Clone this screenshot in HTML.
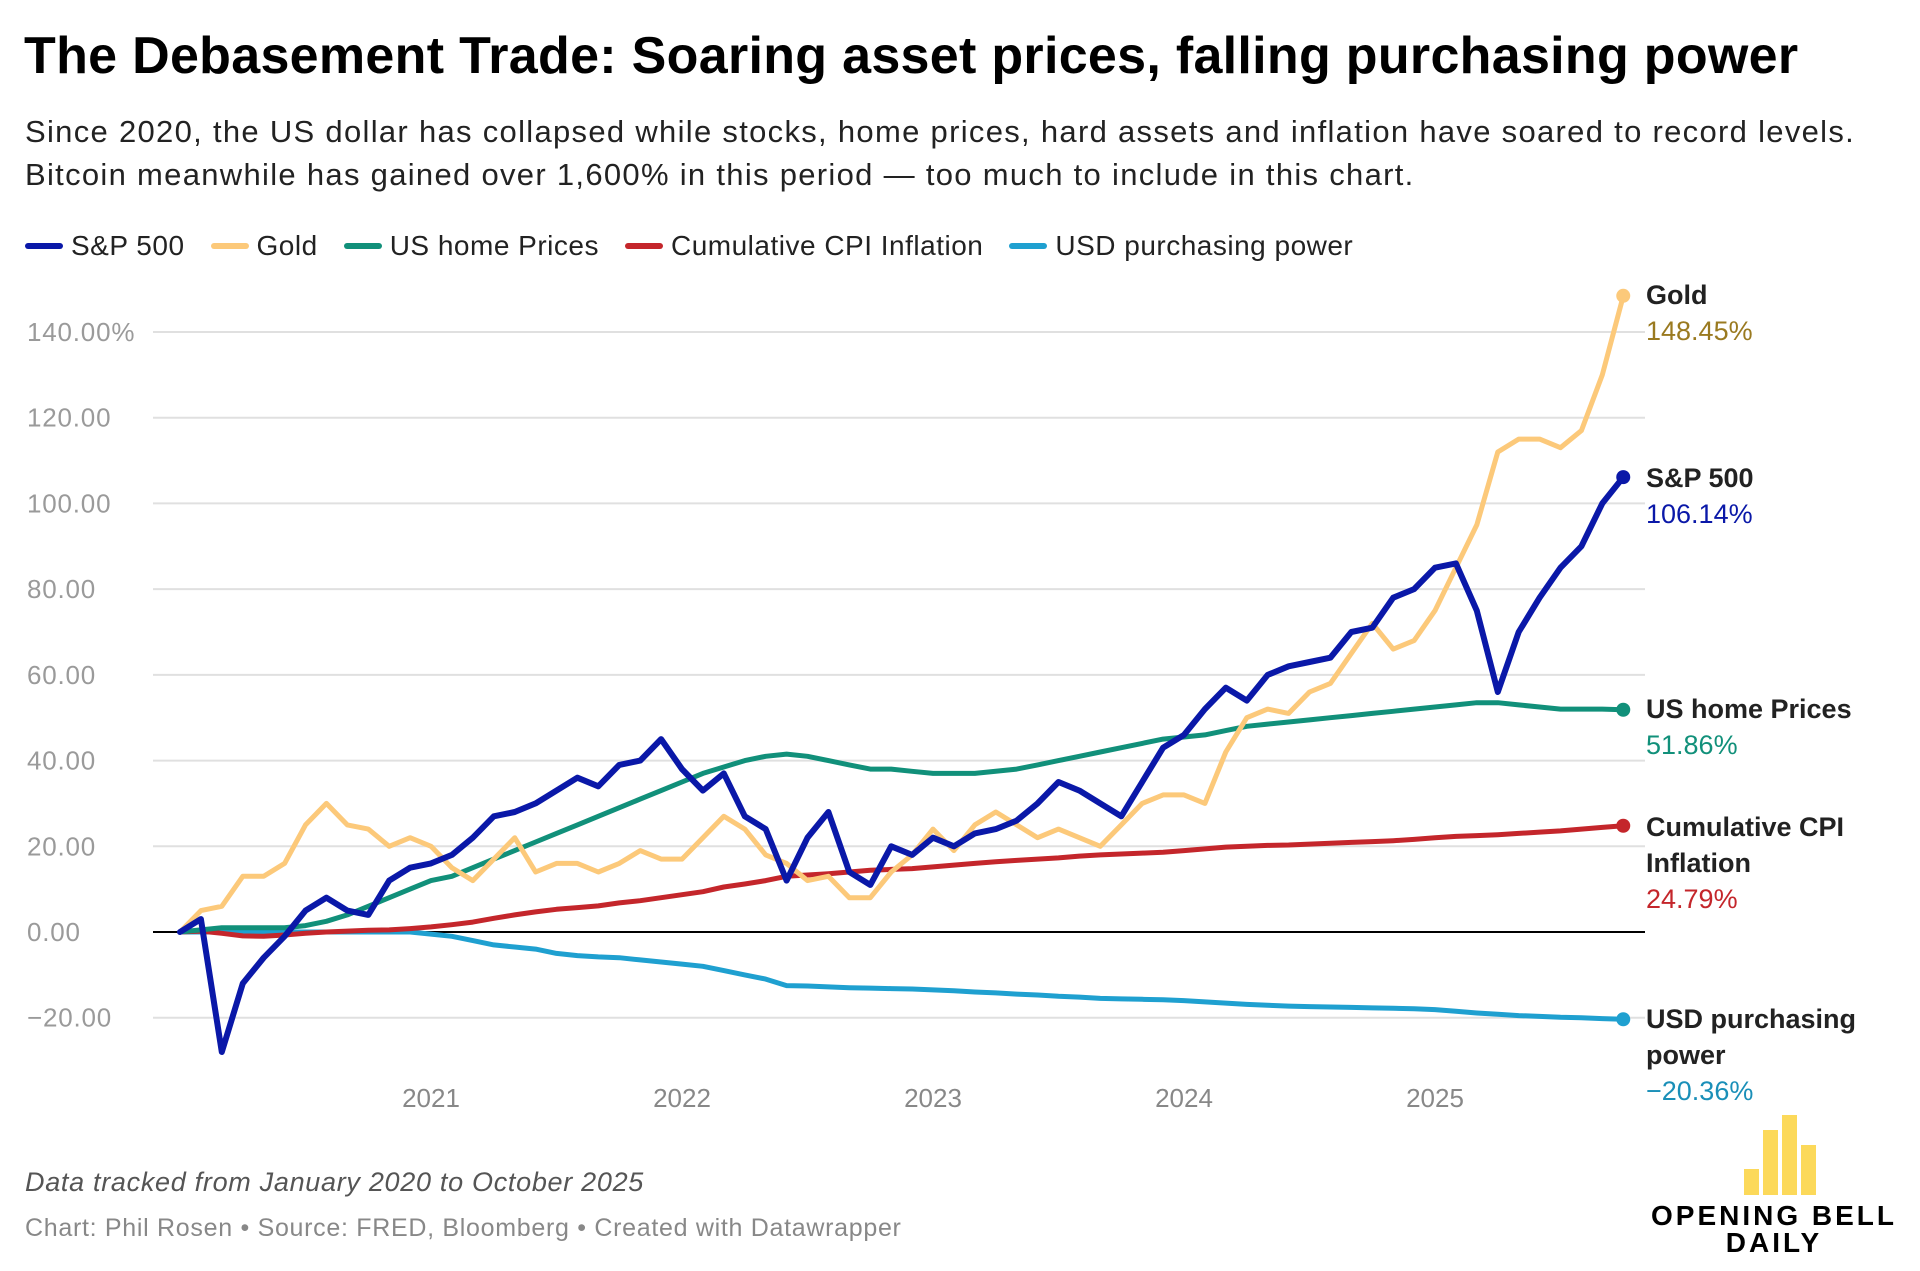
<!DOCTYPE html>
<html><head><meta charset="utf-8">
<style>
html,body{margin:0;padding:0;background:#fff;}
body{width:1920px;height:1271px;position:relative;overflow:hidden;font-family:"Liberation Sans",Arial,sans-serif;}
.t{position:absolute;white-space:nowrap;}
</style></head>
<body>
<div class="t" style="left:24px;top:26px;font-size:52px;font-weight:bold;color:#000;letter-spacing:0.3px;">The Debasement Trade: Soaring asset prices, falling purchasing power</div>
<div class="t" style="left:25px;top:110px;font-size:31px;line-height:43px;color:#222;letter-spacing:1.3px;">Since 2020, the US dollar has collapsed while stocks, home prices, hard assets and inflation have soared to record levels.<br>Bitcoin meanwhile has gained over 1,600% in this period — too much to include in this chart.</div>
<div class="t" style="left:25px;top:230px;font-size:28px;color:#222;display:flex;letter-spacing:0.5px;">
<span style="display:flex;align-items:center;margin-right:26px;"><i style="display:inline-block;width:38px;height:6px;border-radius:3px;background:#0a18a8;margin-right:8px"></i>S&amp;P 500</span>
<span style="display:flex;align-items:center;margin-right:26px;"><i style="display:inline-block;width:38px;height:6px;border-radius:3px;background:#fcc97a;margin-right:8px"></i>Gold</span>
<span style="display:flex;align-items:center;margin-right:26px;"><i style="display:inline-block;width:38px;height:6px;border-radius:3px;background:#11907a;margin-right:8px"></i>US home Prices</span>
<span style="display:flex;align-items:center;margin-right:26px;"><i style="display:inline-block;width:38px;height:6px;border-radius:3px;background:#c4262b;margin-right:8px"></i>Cumulative CPI Inflation</span>
<span style="display:flex;align-items:center;"><i style="display:inline-block;width:38px;height:6px;border-radius:3px;background:#1fa0d0;margin-right:8px"></i>USD purchasing power</span>
</div>

<svg id="chart" width="1920" height="1271" style="position:absolute;left:0;top:0" xmlns="http://www.w3.org/2000/svg"></svg>

<div class="t" style="left:25px;top:1167px;font-size:27px;font-style:italic;color:#555;letter-spacing:0.7px;">Data tracked from January 2020 to October 2025</div>
<div class="t" style="left:25px;top:1214px;font-size:25px;color:#888;letter-spacing:0.7px;">Chart: Phil Rosen • Source: FRED, Bloomberg • Created with Datawrapper</div>

<div style="position:absolute;left:1640px;top:1125px;width:280px;height:146px;">
 <div style="position:absolute;left:104px;top:44px;width:15px;height:26px;background:#fcd95a"></div>
 <div style="position:absolute;left:123px;top:5px;width:15px;height:65px;background:#fcd95a"></div>
 <div style="position:absolute;left:142px;top:-10px;width:15px;height:80px;background:#fcd95a"></div>
 <div style="position:absolute;left:161px;top:20px;width:15px;height:50px;background:#fcd95a"></div>
 <div class="t" style="left:3px;top:77px;font-size:28px;font-weight:bold;letter-spacing:3px;line-height:27px;text-align:center;width:262px;color:#000;">OPENING BELL<br>DAILY</div>
</div>

<script>
const yTicks = [140,120,100,80,60,40,20,0,-20];
const yearLabels = ["2021","2022","2023","2024","2025"];
const sp500 = [0,3,-28,-12,-6,-1,5,8,5,4,12,15,
 16,18,22,27,28,30,33,36,34,39,40,45,
 38,33,37,27,24,12,22,28,14,11,20,18,
 22,20,23,24,26,30,35,33,30,27,35,43,
 46,52,57,54,60,62,63,64,70,71,78,80,
 85,86,75,56,70,78,85,90,100,106.14];
const gold = [0,5,6,13,13,16,25,30,25,24,20,22,
 20,15,12,17,22,14,16,16,14,16,19,17,
 17,22,27,24,18,16,12,13,8,8,14,18,
 24,19,25,28,25,22,24,22,20,25,30,32,
 32,30,42,50,52,51,56,58,65,72,66,68,
 75,85,95,112,115,115,113,117,130,148.45];
const home = [0,0.5,1,1,1,1,1.5,2.5,4,6,8,10,
 12,13,15,17,19,21,23,25,27,29,31,33,
 35,37,38.5,40,41,41.5,41,40,39,38,38,37.5,
 37,37,37,37.5,38,39,40,41,42,43,44,45,
 45.5,46,47,48,48.5,49,49.5,50,50.5,51,51.5,52,
 52.5,53,53.5,53.5,53,52.5,52,52,52,51.86];
const cpi = [0,0.2,-0.3,-0.9,-1,-0.7,-0.3,0,0.2,0.4,0.5,0.8,
 1.2,1.7,2.3,3.2,4.0,4.7,5.3,5.7,6.1,6.8,7.3,8.0,
 8.7,9.4,10.5,11.2,12.0,13.0,13.3,13.6,14.0,14.4,14.6,14.8,
 15.2,15.6,16.0,16.4,16.7,17.0,17.3,17.7,18.0,18.2,18.4,18.6,
 19.0,19.4,19.8,20.0,20.2,20.3,20.5,20.7,20.9,21.1,21.3,21.6,
 22.0,22.3,22.5,22.7,23.0,23.3,23.6,24.0,24.4,24.79];
const usd = [0,0,0,0,0,0,0,0,0,0,0,0,
 -0.5,-1,-2,-3,-3.5,-4,-5,-5.5,-5.8,-6,-6.5,-7,
 -7.5,-8,-9,-10,-11,-12.5,-12.6,-12.8,-13,-13.1,-13.2,-13.3,
 -13.5,-13.7,-14,-14.2,-14.5,-14.7,-15,-15.2,-15.5,-15.6,-15.7,-15.8,
 -16,-16.3,-16.6,-16.9,-17.1,-17.3,-17.4,-17.5,-17.6,-17.7,-17.8,-17.9,
 -18.1,-18.5,-18.9,-19.2,-19.5,-19.7,-19.9,-20.0,-20.2,-20.36];

const X0 = 180, PX_PER_MONTH = 251/12;
const Y0 = 932, PX_PER_UNIT = 600/140;
function xs(i){ return X0 + i*PX_PER_MONTH; }
function ys(v){ return Y0 - v*PX_PER_UNIT; }

const NS = "http://www.w3.org/2000/svg";
const svg = document.getElementById('chart');
function mk(tag, attrs){ const e=document.createElementNS(NS,tag); for(const k in attrs) e.setAttribute(k,attrs[k]); svg.appendChild(e); return e; }

yTicks.forEach((v,i)=>{
  const l = mk('line',{x1:153,x2:1645,y1:ys(v),y2:ys(v),stroke:v===0?'#000':'#e0e0e0','stroke-width':2});
  
  
  const t = mk('text',{x:27,y:ys(v)+9,'font-size':26,fill:'#9a9a9a','letter-spacing':0.8,'font-family':'Liberation Sans, sans-serif'});
  t.textContent = v<0 ? '\u2212'+Math.abs(v).toFixed(2) : v.toFixed(2) + (i===0?'%':'');
  
  
});
yearLabels.forEach((y,i)=>{
  const t = mk('text',{x:xs(12*(i+1)),y:1107,'font-size':26,fill:'#888','text-anchor':'middle','font-family':'Liberation Sans, sans-serif'});
  t.textContent = y;
  
  
});

function series(arr,color,w,name){
  const d = arr.map((v,i)=>(i?'L':'M')+xs(i).toFixed(1)+','+ys(v).toFixed(1)).join('');
  const p = mk('path',{d:d,fill:'none',stroke:color,'stroke-width':w,'stroke-linejoin':'round','stroke-linecap':'round'});
  
  
  const n = arr.length-1;
  const c = mk('circle',{cx:xs(n),cy:ys(arr[n]),r:7,fill:color});
  
  
}
series(usd,'#1fa0d0',5,'usd');
series(cpi,'#c4262b',5,'cpi');
series(home,'#11907a',5,'home');
series(gold,'#fcc97a',5,'gold');
series(sp500,'#0a18a8',6,'sp500');

function lab(lines,valueText,valueColor,yTop,name){
  const g = mk('text',{x:1646,y:yTop,'font-size':27,'font-family':'Liberation Sans, sans-serif'});
  
  
  lines.forEach((s,i)=>{ const ts=document.createElementNS(NS,'tspan'); ts.setAttribute('x',1646); ts.setAttribute('dy', i?36:0); ts.setAttribute('font-weight','bold'); ts.setAttribute('fill','#222'); ts.textContent=s; g.appendChild(ts); });
  const tv=document.createElementNS(NS,'tspan'); tv.setAttribute('x',1646); tv.setAttribute('dy',36); tv.setAttribute('fill',valueColor); tv.textContent=valueText; g.appendChild(tv);
}
lab(['Gold'],(gold[gold.length-1]).toFixed(2)+'%','#9a7a20',304,'gold');
lab(['S&P 500'],(sp500[sp500.length-1]).toFixed(2)+'%','#0a18a8',487,'sp500');
lab(['US home Prices'],(home[home.length-1]).toFixed(2)+'%','#11907a',718,'home');
lab(['Cumulative CPI','Inflation'],(cpi[cpi.length-1]).toFixed(2)+'%','#c4262b',836,'cpi');
lab(['USD purchasing','power'],'\u2212'+Math.abs(usd[usd.length-1]).toFixed(2)+'%','#1a8fb8',1028,'usd');
</script>
</body></html>
